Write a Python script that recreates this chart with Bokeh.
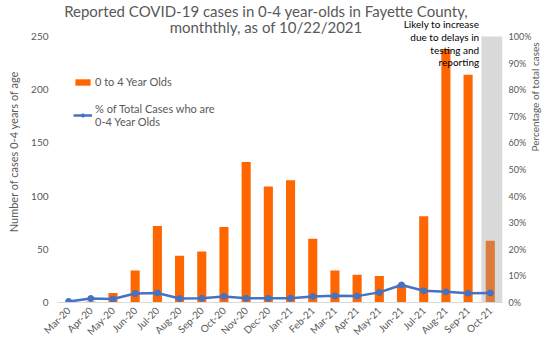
import math
from bokeh.plotting import figure
from bokeh.models import (Range1d, LinearAxis, FixedTicker, NumeralTickFormatter,
                          Label, Legend, LegendItem, ColumnDataSource)
from bokeh.embed import file_html
from bokeh.resources import INLINE

months = ["Mar-20", "Apr-20", "May-20", "Jun-20", "Jul-20", "Aug-20", "Sep-20", "Oct-20",
          "Nov-20", "Dec-20", "Jan-21", "Feb-21", "Mar-21", "Apr-21", "May-21", "Jun-21",
          "Jul-21", "Aug-21", "Sep-21", "Oct-21"]
cases = [0, 1, 9, 30, 72, 44, 48, 71, 132, 109, 115, 60, 30, 26, 25, 17, 81, 238, 214, 58]
pct = [0.004, 0.015, 0.013, 0.034, 0.036, 0.015, 0.016, 0.023, 0.016, 0.016, 0.016, 0.023,
       0.025, 0.024, 0.038, 0.066, 0.044, 0.040, 0.035, 0.036]
bar_colors = ["#FF6600"] * 19 + ["#DB7B3C"]
left_ticks = [0, 50, 100, 150, 200, 250]
right_ticks = [i / 10 for i in range(11)]

FONT = "Lato"
GRAY = "#595959"

# frame spans the full height above the axis so that title/notes sit inside it
Y_TOP = 302 / 266 * 250
P_TOP = 302 / 266
X_END = 19.55

xs = list(range(len(months)))
src = ColumnDataSource(dict(x=xs, cases=cases, pct=pct, color=bar_colors))

p = figure(width=550, height=350, output_backend="svg", toolbar_location=None,
           x_range=Range1d(-0.5, X_END), y_range=Range1d(0, Y_TOP),
           min_border_left=57, min_border_right=45, min_border_top=0, min_border_bottom=48)
p.outline_line_color = None
p.xgrid.grid_line_color = None
p.ygrid.grid_line_color = None
p.background_fill_color = "white"

# shaded "incomplete" band for the latest month
p.quad(left=[18.6], right=[X_END], bottom=[0], top=[250], fill_color="#D9D9D9", line_color=None)

bars = p.vbar(x="x", top="cases", width=0.41, fill_color="color", line_color=None, source=src)

p.extra_y_ranges = {"pct": Range1d(0, P_TOP)}
ln = p.line(x="x", y="pct", y_range_name="pct", line_color="#4472C4", line_width=2.5, source=src)
pts = p.scatter(x="x", y="pct", y_range_name="pct", size=6, fill_color="#4472C4",
                line_color="#4472C4", source=src)

# axes
xa = p.xaxis[0]
xa.ticker = FixedTicker(ticks=xs)
xa.major_label_overrides = {i: m for i, m in enumerate(months)}
xa.major_label_orientation = math.pi / 4
xa.axis_line_color = "#D9D9D9"
xa.major_tick_line_color = None
xa.minor_tick_line_color = None
xa.major_tick_out = 0
xa.major_tick_in = 0
xa.major_label_text_font = FONT
xa.major_label_text_font_size = "10px"
xa.major_label_text_color = GRAY
xa.major_label_standoff = 6

ya = p.yaxis[0]
ya.ticker = FixedTicker(ticks=left_ticks)
ya.axis_line_color = None
ya.major_tick_line_color = None
ya.minor_tick_line_color = None
ya.major_tick_out = 0
ya.major_tick_in = 0
ya.major_label_text_font = FONT
ya.major_label_text_font_size = "10px"
ya.major_label_text_color = GRAY
ya.axis_label = "Number of cases 0-4 years of age"
ya.axis_label_text_font = FONT
ya.axis_label_text_font_size = "11px"
ya.axis_label_text_font_style = "normal"
ya.axis_label_text_color = GRAY
ya.major_label_standoff = 9
ya.axis_label_standoff = 8

ra = LinearAxis(y_range_name="pct", ticker=FixedTicker(ticks=right_ticks),
                formatter=NumeralTickFormatter(format="0%"))
ra.axis_line_color = None
ra.major_tick_line_color = None
ra.minor_tick_line_color = None
ra.major_tick_out = 0
ra.major_tick_in = 0
ra.major_label_text_font = FONT
ra.major_label_text_font_size = "9px"
ra.major_label_text_color = GRAY
ra.axis_label = "Percentage of total cases"
ra.axis_label_text_font = FONT
ra.axis_label_text_font_size = "10px"
ra.axis_label_text_font_style = "normal"
ra.axis_label_text_color = GRAY
ra.axis_label_orientation = math.pi / 2
ra.major_label_standoff = 6
ra.axis_label_standoff = 1
p.add_layout(ra, "right")

# title
p.add_layout(Label(x=8.9, y=274.4, text="Reported COVID-19 cases in 0-4 year-olds in Fayette County,",
                   text_align="center", text_baseline="middle", text_font=FONT,
                   text_font_size="15px", text_color=GRAY))
p.add_layout(Label(x=8.9, y=258.5, text="monththly, as of 10/22/2021",
                   text_align="center", text_baseline="middle", text_font=FONT,
                   text_font_size="15px", text_color=GRAY))

# annotation
p.add_layout(Label(x=18.5, y=267, text="Likely to increase\ndue to delays in\ntesting and\nreporting",
                   text_align="right", text_baseline="top", text_font=FONT,
                   text_font_size="10px", text_color="black", text_line_height=1.05))

legend = Legend(items=[LegendItem(label="0 to 4 Year Olds", renderers=[bars]),
                       LegendItem(label="% of Total Cases who are\n0-4 Year Olds", renderers=[ln, pts])],
                location=(16, 174), glyph_width=19, glyph_height=8,
                label_text_font=FONT, label_text_font_size="11px", label_text_color=GRAY,
                background_fill_alpha=0, border_line_color=None, spacing=14,
                label_standoff=3, padding=2, margin=0)
p.add_layout(legend, "center")

open("out.html", "w").write(file_html(p, INLINE))
